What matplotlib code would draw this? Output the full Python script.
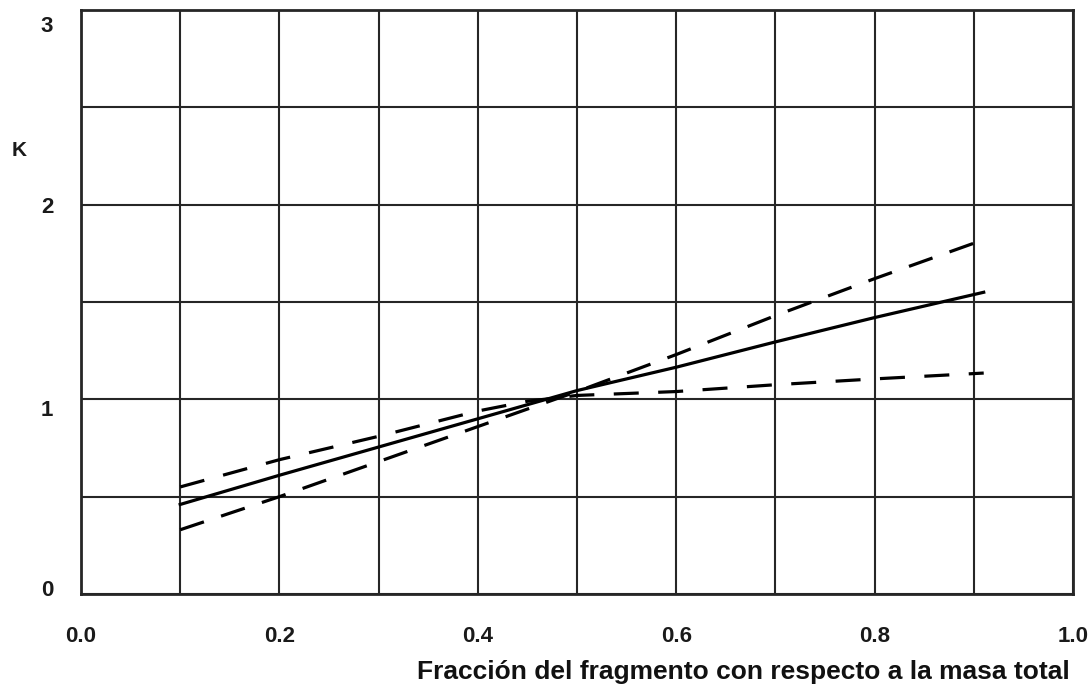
import matplotlib
matplotlib.use("Agg")
import matplotlib.pyplot as plt
import matplotlib.transforms as mtransforms
import numpy as np

# values
frac = [0.1, 0.2, 0.3, 0.4, 0.5, 0.6, 0.7, 0.8, 0.91]
k_mid = [0.46, 0.61, 0.755, 0.90, 1.045, 1.165, 1.295, 1.42, 1.55]
k_steep = [0.33, 0.50, 0.68, 0.86, 1.04, 1.23, 1.43, 1.62, 1.82]

frac_flat = [0.1, 0.2, 0.3, 0.4, 0.45, 0.5, 0.55, 0.6, 0.7, 0.8, 0.91]
k_flat = [0.55, 0.69, 0.81, 0.94, 0.99, 1.02, 1.03, 1.04, 1.075, 1.105, 1.135]

x_ticks = [0.0, 0.2, 0.4, 0.6, 0.8, 1.0]
x_tick_labels = ['0.0', '0.2', '0.4', '0.6', '0.8', '1.0']
y_ticks = [0, 1, 2, 3]

plt.rcParams['font.family'] = ['Liberation Sans', 'DejaVu Sans']
plt.rcParams['lines.scale_dashes'] = False

W, H = 1091, 691
fig = plt.figure(figsize=(W / 100, H / 100), dpi=100)
ax = fig.add_axes([81 / W, 1 - 594 / H, 992 / W, 584 / H])

ax.plot(frac, k_mid, color='black', lw=2.3, zorder=3)
ax.plot(frac, k_steep, color='black', lw=2.3, dashes=(18, 13), zorder=3)
ax.plot(frac_flat, k_flat, color='black', lw=2.3, dashes=(18, 14), zorder=3)

ax.set_xlim(0, 1)
ax.set_ylim(0, 3)
ax.set_xticks(x_ticks)
ax.set_xticklabels(x_tick_labels)
ax.set_yticks(y_ticks)
ax.set_xticks(np.arange(0, 1.01, 0.1), minor=True)
ax.set_yticks([0.5, 1.5, 2.5], minor=True)
ax.grid(which='both', color='#262626', lw=1.5, zorder=1)
ax.set_axisbelow(True)

ax.tick_params(which='both', length=0)
ax.tick_params(axis='x', pad=23, labelsize=16)
ax.tick_params(axis='y', pad=20, labelsize=16)
for lab in ax.get_xticklabels() + ax.get_yticklabels():
    lab.set_fontweight('bold')
    lab.set_color('#1a1a1a')

# the scanned y labels sit a little off their grid lines
y_label_shift = {0: 4, 1: -6, 2: 0, 3: -10}  # points
for tick in ax.yaxis.get_major_ticks():
    dy = y_label_shift.get(int(round(tick.get_loc())), 0)
    tick.label1.set_transform(tick.label1.get_transform() +
                              mtransforms.ScaledTranslation(0, dy / 72, fig.dpi_scale_trans))

for sp in ax.spines.values():
    sp.set_linewidth(2.0)
    sp.set_color('#262626')

fig.text(19 / W, 1 - 150 / H, 'K', ha='center', va='center',
         fontsize=15, fontweight='bold', color='#1a1a1a')
fig.text(1070 / W, 1 - 672 / H, 'Fracción del fragmento con respecto a la masa total',
         ha='right', va='center', fontsize=19, fontweight='bold', color='#111111')

fig.savefig('out.png', dpi=100)
